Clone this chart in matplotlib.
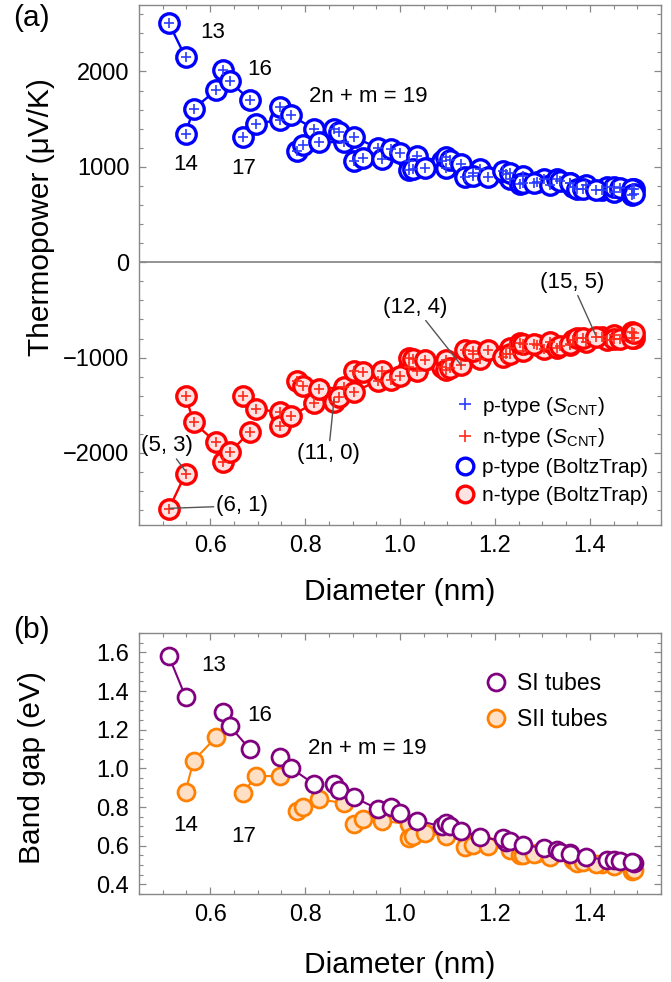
import matplotlib
matplotlib.use("Agg")
import matplotlib.pyplot as plt
from matplotlib.lines import Line2D
from matplotlib.ticker import MultipleLocator, FormatStrFormatter
import numpy as np

plt.rcParams['font.family'] = ['Liberation Sans', 'DejaVu Sans']
plt.rcParams['mathtext.fontset'] = 'custom'
plt.rcParams['mathtext.rm'] = 'Liberation Sans'
plt.rcParams['mathtext.it'] = 'Liberation Sans:italic'

# ---------------- data (chirality, diameter, band gap, thermopower) ----------------
n_idx = [6, 5, 7, 6, 5, 8, 7, 6, 8, 7, 6, 9, 8, 7, 10, 9, 8, 7, 11, 10, 9, 8,
         11, 10, 9, 8, 12, 11, 10, 9, 13, 12, 11, 10, 9, 14, 13, 12, 11, 10,
         14, 13, 12, 11, 10, 15, 14, 13, 12, 11, 16, 15, 14, 13, 12, 11,
         17, 16, 15, 14, 13, 12, 17, 16, 15, 14, 18, 17, 16, 19, 18]
m_idx = [1, 3, 0, 2, 4, 0, 2, 4, 1, 3, 5, 1, 3, 5, 0, 2, 4, 6, 0, 2, 4, 6,
         1, 3, 5, 7, 1, 3, 5, 7, 0, 2, 4, 6, 8, 0, 2, 4, 6, 8,
         1, 3, 5, 7, 9, 1, 3, 5, 7, 9, 0, 2, 4, 6, 8, 10,
         0, 2, 4, 6, 8, 10, 1, 3, 5, 7, 1, 3, 5, 0, 2]
diameter = [0.513, 0.548, 0.548, 0.565, 0.612, 0.626, 0.641, 0.683,
            0.669, 0.696, 0.747, 0.747, 0.771, 0.818, 0.783, 0.795, 0.829, 0.882,
            0.861, 0.872, 0.903, 0.953, 0.903, 0.923, 0.962, 1.018,
            0.981, 1.000, 1.036, 1.088, 1.018, 1.027, 1.053, 1.096, 1.153,
            1.096, 1.105, 1.129, 1.169, 1.223, 1.137, 1.153, 1.185, 1.231, 1.289,
            1.216, 1.231, 1.260, 1.303, 1.358, 1.253, 1.260, 1.282, 1.317, 1.365, 1.425,
            1.331, 1.338, 1.358, 1.392, 1.437, 1.494, 1.372, 1.385, 1.412, 1.450,
            1.450, 1.463, 1.488, 1.488, 1.494]
band_gap = [1.58, 1.37, 0.88, 1.04, 1.16, 1.29, 1.22, 1.10,
            0.87, 0.96, 0.96, 1.06, 1.00, 0.92, 0.78, 0.80, 0.84, 0.82,
            0.92, 0.89, 0.85, 0.79, 0.71, 0.74, 0.73, 0.71,
            0.80, 0.77, 0.73, 0.70, 0.64, 0.65, 0.665, 0.65, 0.62,
            0.715, 0.70, 0.675, 0.647, 0.62, 0.595, 0.605, 0.60, 0.58, 0.56,
            0.64, 0.625, 0.605, 0.587, 0.56, 0.552, 0.552, 0.555, 0.54, 0.525, 0.505,
            0.578, 0.565, 0.555, 0.54, 0.527, 0.51, 0.51, 0.513, 0.505, 0.495,
            0.526, 0.52, 0.514, 0.468, 0.475]
s_p = [2507, 2150, 1347, 1609, 1801, 2018, 1895, 1706,
       1318, 1451, 1493, 1626, 1539, 1399, 1171, 1224, 1259, 1259,
       1399, 1364, 1311, 1200, 1059, 1090, 1084, 1060,
       1190, 1150, 1110, 1060, 965, 975, 990, 985, 935,
       1100, 1075, 1032, 980, 930, 890, 900, 895, 870, 840,
       960, 935, 905, 875, 835, 823, 830, 835, 815, 790, 760,
       870, 855, 835, 810, 790, 770, 765, 770, 755, 740,
       785, 778, 770, 700, 712]
s_n = [-2587, -2219, -1398, -1678, -1888, -2098, -1993, -1783,
       -1398, -1538, -1573, -1713, -1608, -1479, -1240, -1293, -1328, -1310,
       -1468, -1410, -1363, -1240, -1136, -1150, -1140, -1100,
       -1230, -1190, -1145, -1095, -1000, -1010, -1025, -1020, -965,
       -1135, -1110, -1080, -1015, -965, -925, -935, -925, -900, -870,
       -990, -965, -935, -905, -865, -850, -855, -860, -840, -815, -785,
       -895, -880, -860, -835, -815, -790, -790, -795, -780, -765,
       -810, -800, -795, -735, -745]

n_arr = np.array(n_idx)
m_arr = np.array(m_idx)
fam = 2 * n_arr + m_arr
d_arr = np.array(diameter)
eg_arr = np.array(band_gap)
sp_arr = np.array(s_p)
sn_arr = np.array(s_n)
families = sorted(set(fam.tolist()))

# ---------------- styles ----------------
BLUE = '#0000FF'
RED = '#FF0000'
PINK = '#FFE2E2'
PLUS_BLUE = '#2a3cff'
PLUS_RED = '#ff2a1a'
PURPLE = '#800080'
ORANGE = '#FF8000'
PEACH = '#FFE0C4'
SPINE = '#888888'

fig = plt.figure(figsize=(6.71, 9.82), dpi=100)
W, H = 671.0, 982.0
ax1 = fig.add_axes([139 / W, 1 - 525 / H, 522 / W, 520 / H])
ax2 = fig.add_axes([139 / W, 1 - 894 / H, 522 / W, 261 / H])

TICK_FS = 17
LABEL_FS = 21.5
ANN_FS = 16

def style_axes(ax):
    for s in ax.spines.values():
        s.set_color(SPINE)
        s.set_linewidth(1.0)
    ax.tick_params(which='both', direction='in', top=True, right=True,
                   color=SPINE, labelsize=TICK_FS, pad=7)
    ax.tick_params(which='major', length=5, width=0.9)
    ax.tick_params(which='minor', length=3, width=0.8)

# ---------------- panel (a) ----------------
ax1.axhline(0, color='#777777', lw=1.1, zorder=1)
circ_ms, circ_mew = 14, 2.4
plus_ms, plus_mew = 7.5, 1.2
for f in families:
    sel = np.where(fam == f)[0]
    sel = sel[np.argsort(d_arr[sel])]
    ax1.plot(d_arr[sel], sp_arr[sel], '-', color=BLUE, lw=1.7, marker='o', ms=circ_ms,
             mfc='white', mec=BLUE, mew=circ_mew, zorder=2)
    ax1.plot(d_arr[sel], sn_arr[sel], '-', color=RED, lw=1.7, marker='o', ms=circ_ms,
             mfc=PINK, mec=RED, mew=circ_mew, zorder=2)
ax1.plot(d_arr, sp_arr, ls='none', marker='+', ms=plus_ms, mew=plus_mew, color=PLUS_BLUE, zorder=3)
ax1.plot(d_arr, sn_arr, ls='none', marker='+', ms=plus_ms, mew=plus_mew, color=PLUS_RED, zorder=3)

ax1.set_xlim(0.45, 1.55)
ax1.set_ylim(-2755, 2697)
ax1.xaxis.set_major_locator(MultipleLocator(0.2))
ax1.xaxis.set_minor_locator(MultipleLocator(0.05))
ax1.yaxis.set_major_locator(MultipleLocator(1000))
ax1.yaxis.set_minor_locator(MultipleLocator(200))
ax1.xaxis.set_major_formatter(FormatStrFormatter('%.1f'))
style_axes(ax1)

ax1.text(0.606, 2413, '13', fontsize=ANN_FS, ha='center', va='center')
ax1.text(0.705, 2019, '16', fontsize=ANN_FS, ha='center', va='center')
ax1.text(0.549, 1022, '14', fontsize=ANN_FS, ha='center', va='center')
ax1.text(0.670, 980, '17', fontsize=ANN_FS, ha='center', va='center')
ax1.text(0.808, 1739, '2n + m = 19', fontsize=ANN_FS, ha='left', va='center')

line_kw = dict(arrowstyle='-', color='#555555', lw=1.0, shrinkA=0, shrinkB=0)
ann_kw = dict(fontsize=ANN_FS, ha='center', va='center', arrowprops=line_kw)
ax1.annotate('(5, 3)', xy=(0.548, -2190), xytext=(0.508, -1923), **ann_kw)
ax1.annotate('(6, 1)', xy=(0.515, -2580), xytext=(0.668, -2553), **ann_kw)
ax1.annotate('(11, 0)', xy=(0.861, -1440), xytext=(0.849, -2010), **ann_kw)
ax1.annotate('(12, 4)', xy=(1.129, -1080), xytext=(1.032, -472), **ann_kw)
ax1.annotate('(15, 5)', xy=(1.412, -760), xytext=(1.362, -210), **ann_kw)

h1 = [Line2D([], [], ls='none', marker='+', ms=plus_ms + 1, mew=plus_mew, color=PLUS_BLUE),
      Line2D([], [], ls='none', marker='+', ms=plus_ms + 1, mew=plus_mew, color=PLUS_RED),
      Line2D([], [], ls='none', marker='o', ms=circ_ms - 2, mfc='white', mec=BLUE, mew=circ_mew),
      Line2D([], [], ls='none', marker='o', ms=circ_ms - 2, mfc=PINK, mec=RED, mew=circ_mew)]
l1 = ['p-type ($\\mathit{S}_{\\mathrm{CNT}}$)', 'n-type ($\\mathit{S}_{\\mathrm{CNT}}$)',
      'p-type (BoltzTrap)', 'n-type (BoltzTrap)']
ax1.legend(h1, l1, loc='upper left', bbox_to_anchor=(0.6046, 0.2506), frameon=False,
           fontsize=15, handlelength=1.0, handletextpad=0.3, labelspacing=0.42,
           borderpad=0, borderaxespad=0)

fig.text(40.7 / W, 1 - 217.5 / H, 'Thermopower (μV/K)', rotation=90, ha='center', va='center',
         fontsize=LABEL_FS)
fig.text(0.5 * (139 + 661) / W, 1 - 592 / H, 'Diameter (nm)', ha='center', va='center',
         fontsize=LABEL_FS)
fig.text(31.7 / W, 1 - 18.3 / H, '(a)', ha='center', va='center', fontsize=LABEL_FS)

# ---------------- panel (b) ----------------
b_ms, b_mew = 12.2, 2.0
for f in families:
    sel = np.where(fam == f)[0]
    sel = sel[np.argsort(d_arr[sel])]
    if f % 3 == 1:
        ax2.plot(d_arr[sel], eg_arr[sel], '-', color=PURPLE, lw=1.5, marker='o', ms=b_ms,
                 mfc='white', mec=PURPLE, mew=b_mew, zorder=3)
    else:
        ax2.plot(d_arr[sel], eg_arr[sel], '-', color=ORANGE, lw=1.5, marker='o', ms=b_ms,
                 mfc=PEACH, mec=ORANGE, mew=b_mew, zorder=2)

ax2.set_xlim(0.45, 1.55)
ax2.set_ylim(0.35, 1.70)
ax2.xaxis.set_major_locator(MultipleLocator(0.2))
ax2.xaxis.set_minor_locator(MultipleLocator(0.05))
ax2.yaxis.set_major_locator(MultipleLocator(0.2))
ax2.yaxis.set_minor_locator(MultipleLocator(0.05))
ax2.xaxis.set_major_formatter(FormatStrFormatter('%.1f'))
ax2.yaxis.set_major_formatter(FormatStrFormatter('%.1f'))
style_axes(ax2)

ax2.text(0.607, 1.534, '13', fontsize=ANN_FS, ha='center', va='center')
ax2.text(0.705, 1.271, '16', fontsize=ANN_FS, ha='center', va='center')
ax2.text(0.549, 0.702, '14', fontsize=ANN_FS, ha='center', va='center')
ax2.text(0.670, 0.647, '17', fontsize=ANN_FS, ha='center', va='center')
ax2.text(0.807, 1.104, '2n + m = 19', fontsize=ANN_FS, ha='left', va='center')

h2 = [Line2D([], [], ls='none', marker='o', ms=b_ms, mfc='white', mec=PURPLE, mew=b_mew),
      Line2D([], [], ls='none', marker='o', ms=b_ms, mfc=PEACH, mec=ORANGE, mew=b_mew)]
ax2.legend(h2, ['SI tubes', 'SII tubes'], loc='upper left', bbox_to_anchor=(0.662, 0.852),
           frameon=False, fontsize=16.5, handlelength=1.0, handletextpad=0.4,
           labelspacing=0.58, borderpad=0, borderaxespad=0)

fig.text(31.7 / W, 1 - 767.5 / H, 'Band gap (eV)', rotation=90, ha='center', va='center',
         fontsize=LABEL_FS)
fig.text(0.5 * (139 + 661) / W, 1 - 965 / H, 'Diameter (nm)', ha='center', va='center',
         fontsize=LABEL_FS)
fig.text(31.7 / W, 1 - 630 / H, '(b)', ha='center', va='center', fontsize=LABEL_FS)

fig.savefig('out.png', dpi=100)
